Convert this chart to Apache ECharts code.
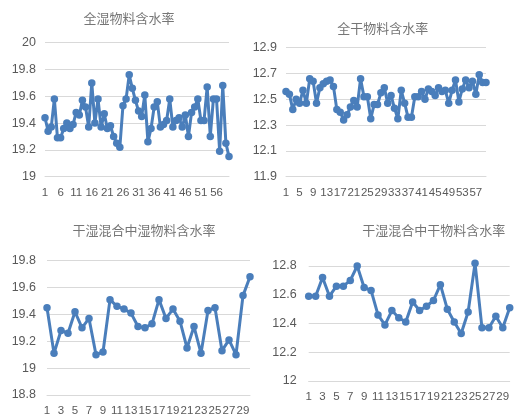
<!DOCTYPE html>
<html>
<head>
<meta charset="utf-8">
<script src="https://cdn.jsdelivr.net/npm/echarts@6/dist/echarts.min.js"></script>
<style>
html,body{margin:0;padding:0;background:#fff;}
#c{width:514px;height:418px;}
</style>
</head>
<body>
<div id="c"></div>
<script>
const titles = ['全湿物料含水率', '全干物料含水率', '干湿混合中湿物料含水率', '干湿混合中干物料含水率'];

const wetAll = [19.44,19.34,19.37,19.58,19.29,19.29,19.36,19.40,19.36,19.39,
  19.48,19.46,19.57,19.52,19.37,19.70,19.40,19.58,19.37,19.47,
  19.36,19.38,19.30,19.25,19.22,19.53,19.58,19.76,19.66,19.57,
  19.49,19.45,19.61,19.26,19.36,19.52,19.56,19.37,19.39,19.42,
  19.58,19.37,19.42,19.44,19.37,19.46,19.30,19.48,19.52,19.58,
  19.42,19.42,19.67,19.30,19.58,19.58,19.19,19.68,19.25,19.15];

const dryAll = [12.56,12.54,12.42,12.50,12.47,12.57,12.47,12.66,12.64,12.47,
  12.59,12.62,12.64,12.65,12.60,12.42,12.40,12.34,12.38,12.44,
  12.49,12.44,12.66,12.52,12.52,12.35,12.46,12.46,12.55,12.59,
  12.47,12.53,12.43,12.35,12.57,12.47,12.36,12.36,12.52,12.52,
  12.56,12.50,12.58,12.56,12.53,12.59,12.56,12.57,12.47,12.57,
  12.65,12.48,12.58,12.65,12.59,12.64,12.54,12.69,12.63,12.63];

const wetMix = [19.45,19.11,19.28,19.26,19.42,19.30,19.37,19.10,19.12,19.51,
  19.46,19.44,19.41,19.31,19.30,19.33,19.51,19.37,19.44,19.35,
  19.15,19.31,19.11,19.43,19.45,19.13,19.21,19.10,19.54,19.68];

const dryMix = [12.59,12.59,12.72,12.59,12.66,12.66,12.70,12.80,12.65,12.63,
  12.46,12.39,12.49,12.44,12.41,12.55,12.49,12.52,12.56,12.67,
  12.50,12.41,12.33,12.48,12.82,12.37,12.37,12.45,12.37,12.51];

const cats60 = Array.from({length: 60}, (_, i) => String(i + 1));
const cats30 = Array.from({length: 30}, (_, i) => String(i + 1));

const yRanges = [[19, 20, 0.2], [11.9, 12.9, 0.2], [18.8, 19.8, 0.2], [12, 12.8, 0.2]];
const labelIntervals = [4, 3, 1, 1];

const grids = [
  {left: 45, top: 42.7, width: 184, height: 134},
  {left: 286, top: 47.7, width: 200, height: 129},
  {left: 47, top: 260.7, width: 203, height: 134.3},
  {left: 308.7, top: 266, width: 201, height: 115}
];
const titlePos = [[124, 7], [377.7, 17], [139, 219], [428.7, 219]];
const yMargins = [9, 9, 11, 12];
const seriesData = [wetAll, dryAll, wetMix, dryMix];
const catsList = [cats60, cats60, cats30, cats30];

const color = '#4A7EBB';
const option = {
  animation: false,
  backgroundColor: '#fff',
  title: titles.map((t, i) => ({
    text: t, left: titlePos[i][0], top: titlePos[i][1], textAlign: 'center',
    textStyle: {fontFamily: 'Noto Sans CJK SC', fontSize: 13, fontWeight: 'normal', color: '#767676'}
  })),
  grid: grids.map(g => Object.assign({containLabel: false}, g)),
  xAxis: catsList.map((c, i) => ({
    type: 'category', gridIndex: i, data: c, boundaryGap: false,
    axisLine: {show: true, lineStyle: {color: '#D9D9D9', width: 1}},
    axisTick: {show: false},
    axisLabel: {interval: labelIntervals[i], margin: 10, color: '#595959', fontSize: 11.5, fontFamily: 'Liberation Sans', hideOverlap: false}
  })),
  yAxis: yRanges.map((r, i) => ({
    type: 'value', gridIndex: i, min: r[0], max: r[1], interval: r[2],
    axisLine: {show: false}, axisTick: {show: false},
    axisLabel: {margin: yMargins[i], color: '#595959', fontSize: 12.5, fontFamily: 'Liberation Sans'},
    splitLine: {lineStyle: {color: '#D9D9D9', width: 1}}
  })),
  series: seriesData.map((d, i) => ({
    type: 'line', xAxisIndex: i, yAxisIndex: i, data: d,
    symbol: 'circle', symbolSize: 7.5, showSymbol: true, showAllSymbol: true, clip: false,
    lineStyle: {color: color, width: 3},
    itemStyle: {color: color}
  }))
};
const chart = echarts.init(document.getElementById('c'), null, {renderer: 'canvas'});
chart.setOption(option);
</script>
</body>
</html>
